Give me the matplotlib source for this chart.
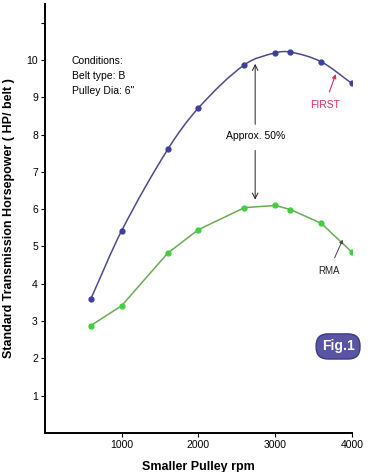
import matplotlib.pyplot as plt
from matplotlib.path import Path
from matplotlib.patches import PathPatch

plt.rcParams['font.family'] = ['Liberation Sans', 'DejaVu Sans']

rpm = [600, 1000, 1600, 2000, 2600, 3000, 3200, 3600, 4000]
first_hp = [3.6, 5.42, 7.6, 8.71, 9.87, 10.19, 10.21, 9.95, 9.37]
rma_hp = [2.88, 3.41, 4.82, 5.45, 6.04, 6.10, 5.99, 5.62, 4.85]
x_ticks = [1000, 2000, 3000, 4000]
y_ticks = [1, 2, 3, 4, 5, 6, 7, 8, 9, 10, 11]
y_labels = ['1', '2', '3', '4', '5', '6', '7', '8', '9', '10', '']


def smooth_path(xs, ys):
    # cubic hermite (bezier form) through the points
    n = len(xs)
    slopes = []
    for i in range(n):
        a, b = max(i - 1, 0), min(i + 1, n - 1)
        slopes.append((ys[b] - ys[a]) / (xs[b] - xs[a]))
    verts = [(xs[0], ys[0])]
    codes = [Path.MOVETO]
    for i in range(n - 1):
        h = (xs[i + 1] - xs[i]) / 3
        verts += [(xs[i] + h, ys[i] + slopes[i] * h),
                  (xs[i + 1] - h, ys[i + 1] - slopes[i + 1] * h),
                  (xs[i + 1], ys[i + 1])]
        codes += [Path.CURVE4] * 3
    return Path(verts, codes)


fig = plt.figure(figsize=(3.8, 4.72), dpi=100)
ax = fig.add_axes([0.118, 0.0826, 0.808, 0.909])

ax.add_patch(PathPatch(smooth_path(rpm, first_hp), fc='none',
                       ec='#4b4b8f', lw=1.1))
ax.plot(rpm, first_hp, ls='none', marker='o', ms=3.5,
        mfc='#3e3e9e', mec='#3e3e9e')
ax.plot(rpm, rma_hp, color='#6aab55', lw=1.1, marker='o', ms=3.5,
        mfc='#3fcf3f', mec='#3fcf3f')

ax.set_xlim(0, 4000)
ax.set_ylim(0, 11.5)
ax.set_xticks(x_ticks)
ax.set_yticks(y_ticks)
ax.set_yticklabels(y_labels)
ax.tick_params(labelsize=7.5, length=3, width=0.8, pad=2)
for s in ['top', 'right']:
    ax.spines[s].set_visible(False)
for s in ['left', 'bottom']:
    ax.spines[s].set_linewidth(1.4)

ax.set_xlabel('Smaller Pulley rpm', fontsize=9, fontweight='bold', labelpad=8)
ax.set_ylabel('Standard Transmission Horsepower ( HP/ belt )', fontsize=9,
              fontweight='bold', labelpad=8)

ax.text(350, 10.1, 'Conditions:\nBelt type: B\nPulley Dia: 6"', fontsize=7.5,
        va='top', ha='left', linespacing=1.6)

# Approx 50% double arrow
ax.annotate('', xy=(2740, 9.97), xytext=(2740, 8.2),
            arrowprops=dict(arrowstyle='->', color='#222222', lw=0.7))
ax.annotate('', xy=(2740, 6.18), xytext=(2740, 7.65),
            arrowprops=dict(arrowstyle='->', color='#222222', lw=0.7))
ax.text(2740, 7.95, 'Approx. 50%', fontsize=7.5, ha='center', va='center')

ax.annotate('FIRST', xy=(3790, 9.62), xytext=(3645, 8.79),
            fontsize=7.5, color='#d8305a', ha='center', va='center',
            arrowprops=dict(arrowstyle='-|>', color='#d8305a', lw=0.8,
                            mutation_scale=6, shrinkA=4, shrinkB=0))
ax.annotate('RMA', xy=(3880, 5.18), xytext=(3700, 4.35),
            fontsize=7, color='#222222', ha='center', va='center',
            arrowprops=dict(arrowstyle='-|>', color='#444444', lw=0.7,
                            mutation_scale=5, shrinkA=4, shrinkB=0))

ax.text(3820, 2.32, 'Fig.1', fontsize=10, color='white', ha='center',
        va='center', fontweight='bold',
        bbox=dict(boxstyle='round,pad=0.4,rounding_size=0.85',
                  fc='#5a55a3', ec='#3e3a80', lw=1))

fig.savefig('out.png', dpi=100)
